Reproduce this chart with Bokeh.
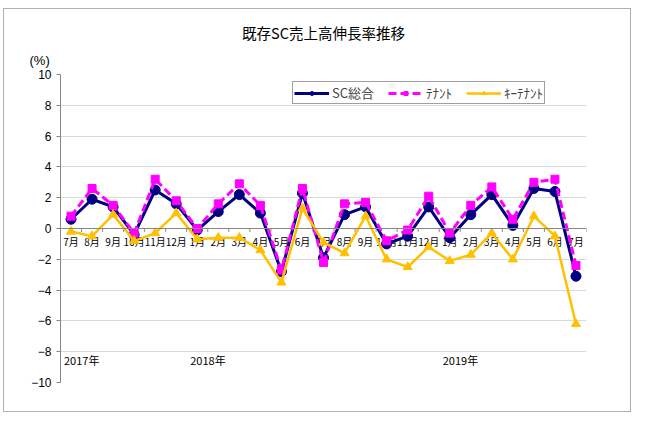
from bokeh.plotting import figure
from bokeh.models import Title, Range1d, SingleIntervalTicker, Span
from bokeh.core.properties import value
from bokeh.embed import file_html
from bokeh.resources import INLINE

months = ["7月", "8月", "9月", "10月", "11月", "12月", "1月", "2月", "3月", "4月", "5月", "6月",
          "7月", "8月", "9月", "10月", "11月", "12月", "1月", "2月", "3月", "4月", "5月", "6月", "7月"]
sc_total = [0.6, 1.9, 1.4, -0.4, 2.5, 1.6, -0.1, 1.1, 2.2, 1.0, -2.8, 2.3,
            -1.9, 0.9, 1.4, -1.0, -0.5, 1.4, -0.6, 0.9, 2.2, 0.2, 2.6, 2.4, -3.1]
tenant = [0.8, 2.6, 1.5, -0.3, 3.2, 1.8, 0.0, 1.6, 2.9, 1.5, -2.7, 2.6,
          -2.2, 1.6, 1.7, -0.8, -0.1, 2.1, -0.3, 1.5, 2.7, 0.6, 3.0, 3.2, -2.4]
key_tenant = [-0.2, -0.5, 0.9, -0.8, -0.3, 1.0, -0.7, -0.6, -0.6, -1.4, -3.5, 1.3,
              -0.9, -1.6, 0.8, -2.0, -2.5, -1.2, -2.1, -1.7, -0.3, -2.0, 0.8, -0.5, -6.2]
years = ["2017年", "2018年", "2019年"]
year_idx = [0, 6, 18]

JP = "Noto Sans CJK JP"
n = len(months)
x = list(range(n))

p = figure(width=628, height=404, output_backend="svg", toolbar_location=None,
           x_range=Range1d(-0.5, n - 0.5), y_range=Range1d(-10, 10),
           min_border_left=56, min_border_right=46, min_border_top=65, min_border_bottom=31)
p.styles = {"border": "1px solid #b0b0b0", "margin-left": "3px", "margin-top": "8px"}
p.outline_line_color = None
p.xaxis.visible = False
p.xgrid.visible = False
p.ygrid.grid_line_color = "#d9d9d9"
p.ygrid.grid_line_width = 1

# main title (outer) and unit label (closest to frame)
p.title.text = "既存SC売上高伸長率推移"
p.title.align = "center"
p.title.offset = -2
p.title.text_font = JP
p.title.text_font_size = "14.5px"
p.title.text_font_style = "normal"
p.title.text_color = "#000000"
p.add_layout(Title(text="(%)", align="left", offset=-31, vertical_align="top",
                   text_font="Liberation Sans", text_font_size="13px", text_font_style="normal",
                   text_color="#000000"), "above")

yax = p.yaxis[0]
yax.ticker = SingleIntervalTicker(interval=2, num_minor_ticks=0)
yax.axis_line_color = "#868686"
yax.major_tick_line_color = "#868686"
yax.major_tick_out = 4
yax.major_tick_in = 0
yax.minor_tick_line_color = None
yax.major_label_text_font = "Liberation Sans"
yax.major_label_text_font_size = "12px"
yax.major_label_text_color = "#000000"
yax.major_label_standoff = 5

# category axis line at zero
p.add_layout(Span(location=0, dimension="width", line_color="#868686", line_width=1))
bounds = [i - 0.5 for i in range(n + 1)]
p.segment(x0=bounds, y0=[0] * len(bounds), x1=bounds, y1=[-0.22] * len(bounds),
          line_color="#868686", line_width=1)

p.text(x=x, y=[0] * n, text=months, text_align="center", text_baseline="top", y_offset=5,
       text_font=value(JP), text_font_size="10px", text_color="#000000")
p.text(x=year_idx, y=[-10] * len(year_idx), text=years, text_align="left", text_baseline="bottom",
       x_offset=-7, y_offset=-15, text_font=value(JP), text_font_size="11px", text_color="#000000")

p.line(x, sc_total, line_color="#000080", line_width=3, legend_label="SC総合")
p.scatter(x, sc_total, marker="circle", size=10, fill_color="#000080", line_color="#000080",
          legend_label="SC総合")
p.line(x, tenant, line_color="#FF00FF", line_width=3, line_dash="8 4", legend_label="ﾃﾅﾝﾄ")
p.scatter(x, tenant, marker="square", size=8, fill_color="#FF00FF", line_color="#FF00FF",
          legend_label="ﾃﾅﾝﾄ")
p.line(x, key_tenant, line_color="#FFC000", line_width=2.5, legend_label="ｷｰﾃﾅﾝﾄ")
p.scatter(x, key_tenant, marker="triangle", size=9, fill_color="#FFC000", line_color="#FFC000",
          legend_label="ｷｰﾃﾅﾝﾄ")

lg = p.legend[0]
lg.orientation = "horizontal"
lg.location = (232, 278)
lg.border_line_color = "#404040"
lg.border_line_width = 1
lg.padding = 1
lg.spacing = 14
lg.margin = 0
lg.glyph_width = 35
lg.glyph_height = 10
lg.label_height = 10
lg.label_standoff = 3
lg.label_text_font = JP
lg.label_text_font_size = "13px"
lg.label_text_baseline = "middle"

open("out.html", "w").write(file_html(p, INLINE))
